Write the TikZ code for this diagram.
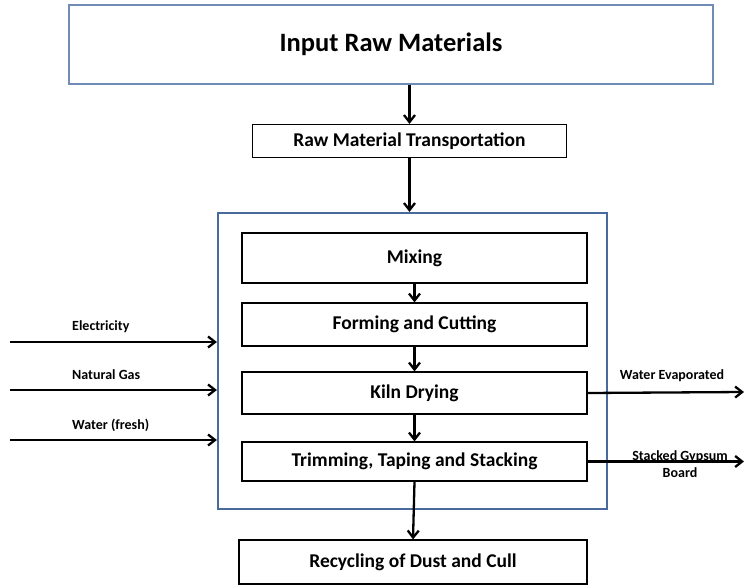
\documentclass[tikz,border=0pt]{standalone}
\usepackage{fontspec}
\setmainfont{Carlito}
\usetikzlibrary{arrows.meta}
\definecolor{framegray}{RGB}{112,140,182}
\definecolor{frameblue}{RGB}{72,106,156}
\begin{document}
\begin{tikzpicture}[x=1pt,y=-1pt,>={Straight Barb[length=7pt,width=11pt]},
    stepbox/.style={draw,line width=1.2pt,inner sep=0pt,font=\fontsize{19.5}{22}\selectfont\bfseries},
    flow/.style={line width=2.3pt,->},
    sidelabel/.style={font=\fontsize{14}{17}\selectfont\bfseries,inner sep=0pt}]
  \useasboundingbox (0,0) rectangle (745,586);
  % input and transport
  \node[draw=framegray,line width=1.4pt,minimum width=644pt,minimum height=79pt,font=\fontsize{26.5}{30}\selectfont\bfseries] (inrm) at (391,44.5) {Input Raw Materials};
  \node[stepbox,minimum width=314pt,minimum height=33pt] (trans) at (409.5,141) {Raw Material Transportation};
  % plant frame and steps
  \node[draw=frameblue,line width=2.2pt,minimum width=389pt,minimum height=296pt] (plant) at (412.5,361) {};
  \node[stepbox,minimum width=345pt,minimum height=50pt] (mix) at (414.5,258) {Mixing};
  \node[stepbox,minimum width=345pt,minimum height=43pt] (form) at (414.5,324.5) {Forming and Cutting};
  \node[stepbox,minimum width=345pt,minimum height=42pt] (kiln) at (414.5,393) {Kiln Drying};
  \node[stepbox,minimum width=345pt,minimum height=39pt] (trim) at (414.5,461.5) {Trimming, Taping and Stacking};
  \node[stepbox,minimum width=348pt,minimum height=44pt] (recyc) at (413,562) {Recycling of Dust and Cull};
  % main flow
  \draw[flow] (trans.north |- inrm.south) -- (trans.north);
  \draw[flow] (trans.south) -- (trans.south |- plant.north);
  \draw[flow] (mix.south) -- (form.north);
  \draw[flow] (form.south) -- (kiln.north);
  \draw[flow] (kiln.south) -- (trim.north);
  \draw[flow] (trim.south) -- (recyc.north);
  % inputs
  \foreach \y/\t [count=\i] in {342/Electricity,390/Natural Gas,440/Water (fresh)}{
    \coordinate (in\i) at (10,\y);
    \node[sidelabel,anchor=west] (lbl\i) at (72,\y-15) {\t};
    \draw[flow] (in\i) -- (in\i -| plant.west);
  }
  % outputs
  \coordinate (outw) at (744,392);
  \draw[flow] (kiln.east) -- (outw);
  \node[sidelabel] (wevap) at (672,376) {Water Evaporated};
  \draw[flow] (trim.east) -- (trim.east -| outw);
  \node[sidelabel,align=center] (board) at (680,464.5) {Stacked Gypsum\\Board};
\end{tikzpicture}
\end{document}
